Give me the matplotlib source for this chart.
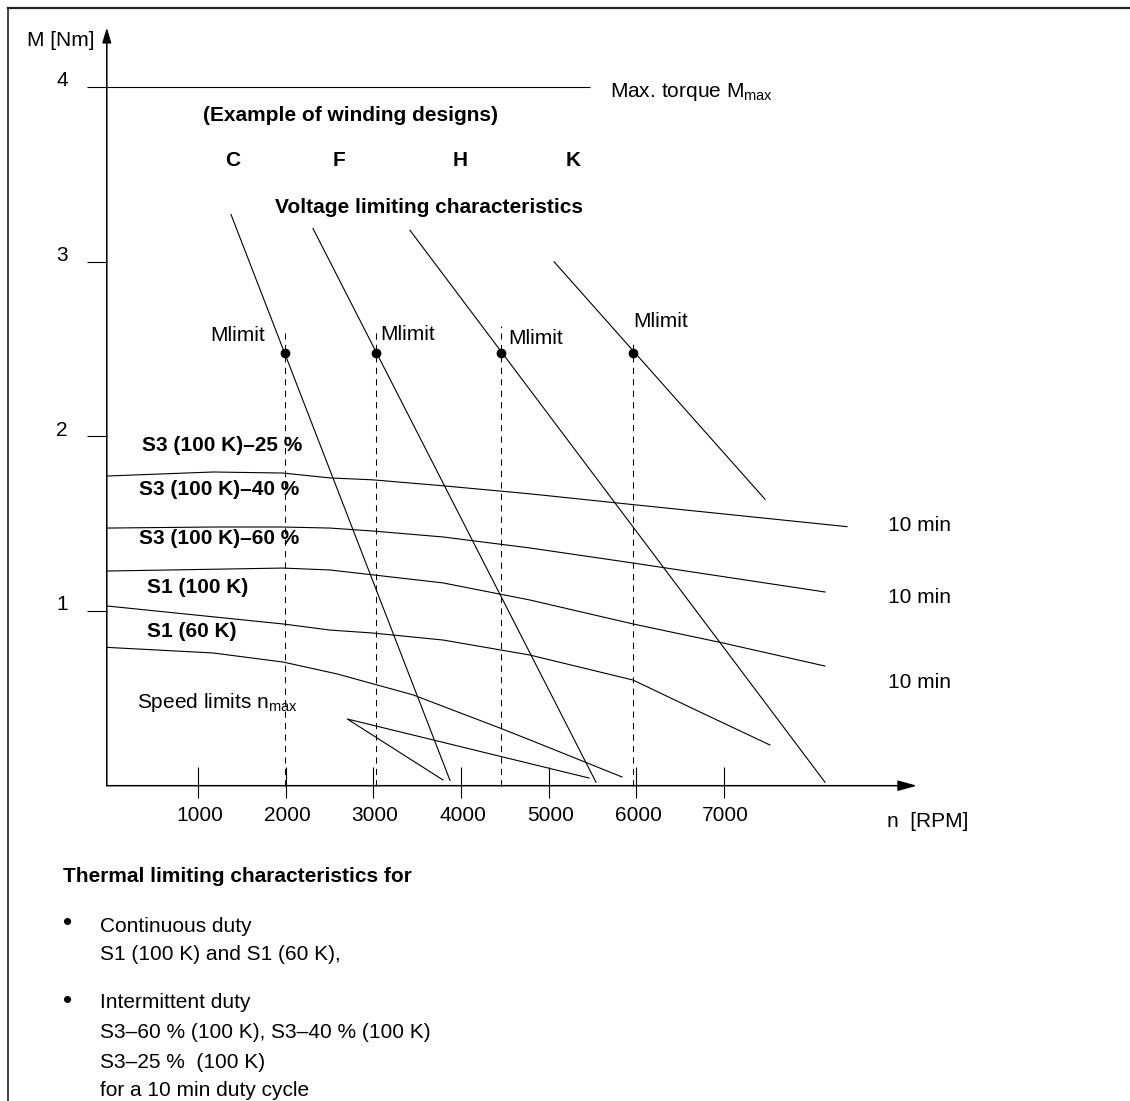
import matplotlib
matplotlib.use("Agg")
import matplotlib.pyplot as plt
from matplotlib.lines import Line2D

plt.rcParams['font.family'] = ['Liberation Sans', 'DejaVu Sans']
plt.rcParams['mathtext.fontset'] = 'custom'
plt.rcParams['mathtext.rm'] = 'Liberation Sans'

# axis ticks
x_ticks = [1000, 2000, 3000, 4000, 5000, 6000, 7000]
y_ticks = [1, 2, 3]
m_max = 4

# voltage limiting characteristics (rpm, Nm): start -> end
windings = ['C', 'F', 'H', 'K']
volt_n = [[1377, 3875], [2312, 5540], [3418, 8152], [5061, 7468]]
volt_m = [[3.27, 0.03], [3.19, 0.02], [3.18, 0.02], [3.00, 1.64]]

# Mlimit points
mlim_n = [1990, 3025, 4460, 5960]
mlim_m = [2.48, 2.48, 2.48, 2.48]
mlim_top = [2.59, 2.61, 2.63, 2.53]

# thermal limiting characteristics
s3_25_n = [-40, 1172, 1970, 2506, 2996, 3795, 4787, 5756, 8404]
s3_25_m = [1.773, 1.796, 1.790, 1.762, 1.751, 1.717, 1.671, 1.620, 1.483]
s3_40_n = [-40, 1172, 1970, 2506, 2996, 3795, 4787, 5962, 8152]
s3_40_m = [1.475, 1.481, 1.481, 1.475, 1.458, 1.424, 1.361, 1.275, 1.109]
s3_60_n = [-40, 1970, 2506, 2996, 3795, 4787, 5962, 6989, 8152]
s3_60_m = [1.229, 1.246, 1.235, 1.207, 1.161, 1.063, 0.926, 0.817, 0.685]
s1_100_n = [-40, 1970, 2506, 2996, 3795, 4787, 5962, 6726, 7524]
s1_100_m = [1.029, 0.926, 0.891, 0.874, 0.834, 0.748, 0.605, 0.422, 0.233]
s1_60_n = [-40, 1171, 1970, 2586, 3453, 4445, 4787, 5837]
s1_60_m = [0.792, 0.760, 0.708, 0.640, 0.520, 0.330, 0.262, 0.050]

# speed limits n_max
speed_n = [3794, 2703, 5460]
speed_m = [0.033, 0.382, 0.044]

fig = plt.figure(figsize=(11.3, 11.01), dpi=100)
ax = fig.add_axes([0, 0, 1, 1])
ax.set_xlim(-1258.1, 11631.1)
ax.set_ylim(-1.8051, 4.4982)
ax.axis('off')

fs = 15
lw = 0.8

# axes with arrows
ax.annotate('', xy=(9200, 0), xytext=(-40, 0),
            arrowprops=dict(arrowstyle='-|>,head_length=1.15,head_width=0.32',
                            color='black', lw=1.1, shrinkA=0, shrinkB=0, mutation_scale=10))
ax.annotate('', xy=(-40, 4.34), xytext=(-40, 0),
            arrowprops=dict(arrowstyle='-|>,head_length=0.9,head_width=0.27',
                            color='black', lw=1.1, shrinkA=0, shrinkB=0, mutation_scale=10))

# ticks
ax.vlines(x_ticks, -0.07, 0.105, color='black', lw=lw)
ax.hlines(y_ticks, -270, -40, color='black', lw=lw)
ax.hlines([m_max], -270, 5472, color='black', lw=lw)
for t in x_ticks:
    ax.text(t + 20, -0.168, str(t), ha='center', va='center', fontsize=fs)
for t in y_ticks + [m_max]:
    ax.text(-551, t + 0.035, str(t), ha='center', va='center', fontsize=fs)
ax.text(-950, 4.269, 'M [Nm]', ha='left', va='center', fontsize=fs)
ax.text(8860, -0.207, 'n  [RPM]', ha='left', va='center', fontsize=fs)
ax.text(5700, 3.943, r'Max. torque M$_\mathregular{max}$', ha='left', va='baseline', fontsize=fs)

# voltage limiting lines
for n, m in zip(volt_n, volt_m):
    ax.plot(n, m, color='black', lw=lw)
ax.text(1057, 3.839, '(Example of winding designs)', ha='left', va='center',
        fontsize=fs, fontweight='bold')
for w, xc in zip(windings, [1398, 2609, 3989, 5278]):
    ax.text(xc, 3.582, w, ha='center', va='center', fontsize=fs, fontweight='bold')
ax.text(1879, 3.313, 'Voltage limiting characteristics', ha='left', va='center',
        fontsize=fs, fontweight='bold')

# Mlimit dots and dashed verticals
for n, m, top in zip(mlim_n, mlim_m, mlim_top):
    ax.plot([n, n], [0, top], color='black', lw=0.75, dashes=(6, 5))
ax.plot(mlim_n, mlim_m, 'o', color='black', ms=6)
for xl, yl in zip([1137, 3076, 4536, 5962], [2.575, 2.586, 2.563, 2.660]):
    ax.text(xl, yl, 'Mlimit', ha='left', va='center', fontsize=fs)

# thermal curves
curves = [(s3_25_n, s3_25_m), (s3_40_n, s3_40_m), (s3_60_n, s3_60_m),
          (s1_100_n, s1_100_m), (s1_60_n, s1_60_m)]
for n, m in curves:
    ax.plot(n, m, color='black', lw=lw)
labels = ['S3 (100 K)\u201325 %', 'S3 (100 K)\u201340 %', 'S3 (100 K)\u201360 %',
          'S1 (100 K)', 'S1 (60 K)']
for lab, xl, yl in zip(labels, [362, 327, 327, 419, 419], [1.950, 1.693, 1.418, 1.137, 0.880]):
    ax.text(xl, yl, lab, ha='left', va='center', fontsize=fs, fontweight='bold')
for yl in [1.487, 1.080, 0.588]:
    ax.text(8871, yl, '10 min', ha='left', va='center', fontsize=fs)

# speed limits
ax.plot(speed_n, speed_m, color='black', lw=lw)
ax.text(305, 0.445, r'Speed limits n$_\mathregular{max}$', ha='left', va='baseline', fontsize=fs)

# text below the chart
W, H = 1130, 1101
fig.text(63 / W, 1 - 877 / H, 'Thermal limiting characteristics for', ha='left', va='center',
         fontsize=fs, fontweight='bold')
fig.text(68 / W, 1 - 923 / H, '\u2022', ha='center', va='center', fontsize=fs + 4)
fig.text(68 / W, 1 - 1001 / H, '\u2022', ha='center', va='center', fontsize=fs + 4)
lines_txt = [('Continuous duty', 926), ('S1 (100 K) and S1 (60 K),', 955),
             ('Intermittent duty', 1003), ('S3\u201360 % (100 K), S3\u201340 % (100 K)', 1032),
             ('S3\u201325 %  (100 K)', 1062), ('for a 10 min duty cycle', 1090)]
for txt, yp in lines_txt:
    fig.text(100 / W, 1 - yp / H, txt, ha='left', va='center', fontsize=fs)

# frame
fig.add_artist(Line2D([8 / W, 1], [1 - 7.5 / H, 1 - 7.5 / H], color='#222222', lw=1.6))
fig.add_artist(Line2D([8 / W, 8 / W], [0, 1 - 7.5 / H], color='#222222', lw=1.2))

fig.savefig('out.png', dpi=100)
